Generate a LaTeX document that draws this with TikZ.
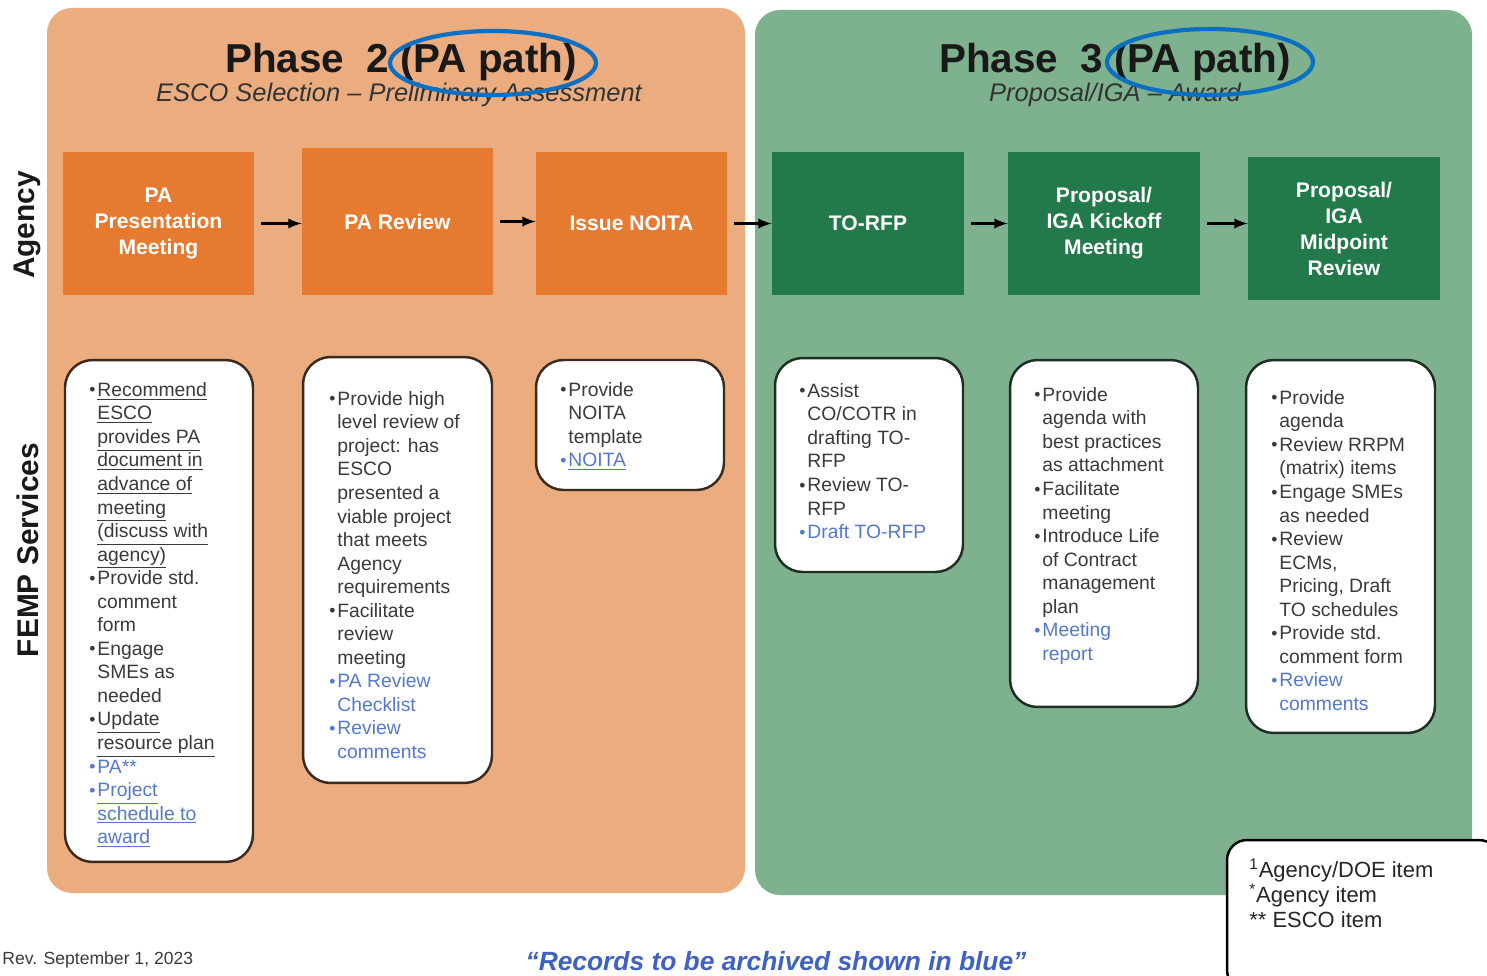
\documentclass[tikz,border=0pt]{standalone}
\usepackage{fontspec}
\setmainfont{Liberation Sans}
\usepackage[usenames,dvipsnames]{xcolor}
\usepackage{tikz}
\usetikzlibrary{calc}

\definecolor{paleorange}{HTML}{EBAC80}
\definecolor{paleteal}{HTML}{7EB28E}
\definecolor{deeporange}{HTML}{E67A30}
\definecolor{deepteal}{HTML}{227A4A}
\definecolor{recblue}{HTML}{5479CC}
\definecolor{noteblue}{HTML}{3F62C0}
\definecolor{ringblue}{HTML}{0B6FC2}
\definecolor{bodygray}{HTML}{3A3A3A}
\definecolor{edgebrown}{HTML}{3B2A20}
\definecolor{edgegreen}{HTML}{1E2E24}

\newcommand{\bul}{\makebox[4.6pt][l]{\raisebox{0.05ex}{\fontsize{10}{10}\selectfont\textbullet}}}
\newcommand{\hang}{\hspace*{4.6pt}}
\newcommand{\rec}[1]{\textcolor{recblue}{#1}}

\tikzset{
  agbox/.style={fill=#1, minimum width=3.82cm, minimum height=2.86cm,
    inner sep=0pt, align=center, text=white,
    font=\fontsize{12}{14.8}\selectfont\bfseries},
  svcbox/.style={draw=#1, fill=white, line width=1.4pt, rounded corners=0.55cm,
    inner sep=0pt},
  note/.style={anchor=north west, inner sep=0pt, align=left, text=bodygray,
    font=\fontsize{11}{13.4}\selectfont},
  flow/.style={-latex, line width=1.6pt, shorten <=4pt},
  ring/.style={draw=ringblue, line width=2.4pt},
  title/.style={text=black!90, font=\fontsize{23}{26}\selectfont\bfseries},
  subtitle/.style={text=black!80, font=\fontsize{14.5}{17}\selectfont\itshape},
  lane/.style={rotate=90, text=black!90, font=\fontsize{17}{20}\selectfont\bfseries}
}

\begin{document}
\begin{tikzpicture}[x=0.02cm, y=-0.02cm]
\useasboundingbox (0,0) rectangle (1487,976);

% phase panels
\fill[paleorange, rounded corners=0.5cm] (47,8) rectangle (745,893);
\fill[paleteal, rounded corners=0.5cm] (755,10) rectangle (1472,895);

\node[title] (ph2) at (401,62) {Phase\ \ 2 (PA path)};
\node[subtitle] (sub2) at (399,95) {ESCO Selection -- Preliminary Assessment};
\node[title] (ph3) at (1115,62) {Phase\ \ 3 (PA path)};
\node[subtitle] (sub3) at (1115,95) {Proposal/IGA -- Award};
\draw[ring] (493,63) ellipse [x radius=2.06cm, y radius=0.64cm];
\draw[ring] (1210,62) ellipse [x radius=2.06cm, y radius=0.66cm];

\node[lane] (agency) at (27,225) {Agency};
\node[lane] (femp) at (28,550) {FEMP Services};

% agency steps
\node[agbox=deeporange] (a1) at (158.5,223.5) {PA\\Presentation\\Meeting};
\node[agbox=deeporange, minimum height=2.94cm] (a2) at (397.5,221.5) {PA Review};
\node[agbox=deeporange] (a3) at (631.5,223.5) {Issue NOITA};
\node[agbox=deepteal, minimum width=3.84cm] (g1) at (868,223.5) {TO-RFP};
\node[agbox=deepteal, minimum width=3.84cm] (g2) at (1104,223.5) {Proposal/\\IGA Kickoff\\Meeting};
\node[agbox=deepteal, minimum width=3.84cm] (g3) at (1344,228.5) {Proposal/\\IGA\\Midpoint\\Review};

\draw[flow] (a1.east) -- (a1.east -| a2.west);
\draw[flow] (a2.east) -- (a2.east -| a3.west);
\draw[flow] (a3.east) -- (a3.east -| g1.west);
\draw[flow] (g1.east) -- (g1.east -| g2.west);
\draw[flow] (g2.east) -- (g2.east -| g3.west);

% FEMP service boxes
\node[svcbox=edgebrown, minimum width=3.76cm, minimum height=10.04cm] (s1) at (159,611) {};
\node[svcbox=edgebrown, minimum width=3.78cm, minimum height=8.52cm] (s2) at (397.5,570) {};
\node[svcbox=edgebrown, minimum width=3.76cm, minimum height=2.6cm] (s3) at (630,425) {};
\node[svcbox=edgegreen, minimum width=3.76cm, minimum height=4.28cm] (s4) at (869,465) {};
\node[svcbox=edgegreen, minimum width=3.76cm, minimum height=6.94cm] (s5) at (1104,533.5) {};
\node[svcbox=edgegreen, minimum width=3.78cm, minimum height=7.46cm] (s6) at (1340.5,546.5) {};

\node[note] (t1) at (89,382) {%
\bul\underline{Recommend}\\
\hang\underline{ESCO}\\
\hang\underline{provides PA}\\
\hang\underline{document in}\\
\hang\underline{advance of}\\
\hang\underline{meeting}\\
\hang\underline{(discuss with}\\
\hang\underline{agency)}\\
\bul Provide std.\\
\hang comment\\
\hang form\\
\bul Engage\\
\hang SMEs as\\
\hang needed\\
\bul\underline{Update}\\
\hang\underline{resource plan}\\
\rec{\bul PA**}\\
\rec{\bul\underline{Project}}\\
\rec{\hang\underline{schedule to}}\\
\rec{\hang\underline{award}}};

\node[note] (t2) at (329,391) {%
\bul Provide high\\
\hang level review of\\
\hang project: has\\
\hang ESCO\\
\hang presented a\\
\hang viable project\\
\hang that meets\\
\hang Agency\\
\hang requirements\\
\bul Facilitate\\
\hang review\\
\hang meeting\\
\rec{\bul PA Review}\\
\rec{\hang Checklist}\\
\rec{\bul Review}\\
\rec{\hang comments}};

\node[note] (t3) at (560,382) {%
\bul Provide\\
\hang NOITA\\
\hang template\\
\rec{\bul\underline{NOITA}}};

\node[note] (t4) at (799,383) {%
\bul Assist\\
\hang CO/COTR in\\
\hang drafting TO-\\
\hang RFP\\
\bul Review TO-\\
\hang RFP\\
\rec{\bul Draft TO-RFP}};

\node[note] (t5) at (1034,387) {%
\bul Provide\\
\hang agenda with\\
\hang best practices\\
\hang as attachment\\
\bul Facilitate\\
\hang meeting\\
\bul Introduce Life\\
\hang of Contract\\
\hang management\\
\hang plan\\
\rec{\bul Meeting}\\
\rec{\hang report}};

\node[note] (t6) at (1271,390) {%
\bul Provide\\
\hang agenda\\
\bul Review RRPM\\
\hang (matrix) items\\
\bul Engage SMEs\\
\hang as needed\\
\bul Review\\
\hang ECMs,\\
\hang Pricing, Draft\\
\hang TO schedules\\
\bul Provide std.\\
\hang comment form\\
\rec{\bul Review}\\
\rec{\hang comments}};

% key and footer
\node[svcbox=black, rounded corners=0.4cm, minimum width=5.44cm, minimum height=3cm] (key) at (1363,915) {};
\node[note, text=black!85, font=\fontsize{12.5}{14.2}\selectfont] (keytext) at (1249,859) {%
\textsuperscript{1}Agency/DOE item\\
\textsuperscript{*}Agency item\\
** ESCO item};

\node[anchor=west, inner sep=0pt, text=bodygray, font=\fontsize{10}{12}\selectfont] (rev) at (2,960) {Rev. September 1, 2023};
\node[text=noteblue, font=\fontsize{15}{18}\selectfont\bfseries\itshape] (recnote) at (776,961) {“Records to be archived shown in blue”};
\end{tikzpicture}
\end{document}
